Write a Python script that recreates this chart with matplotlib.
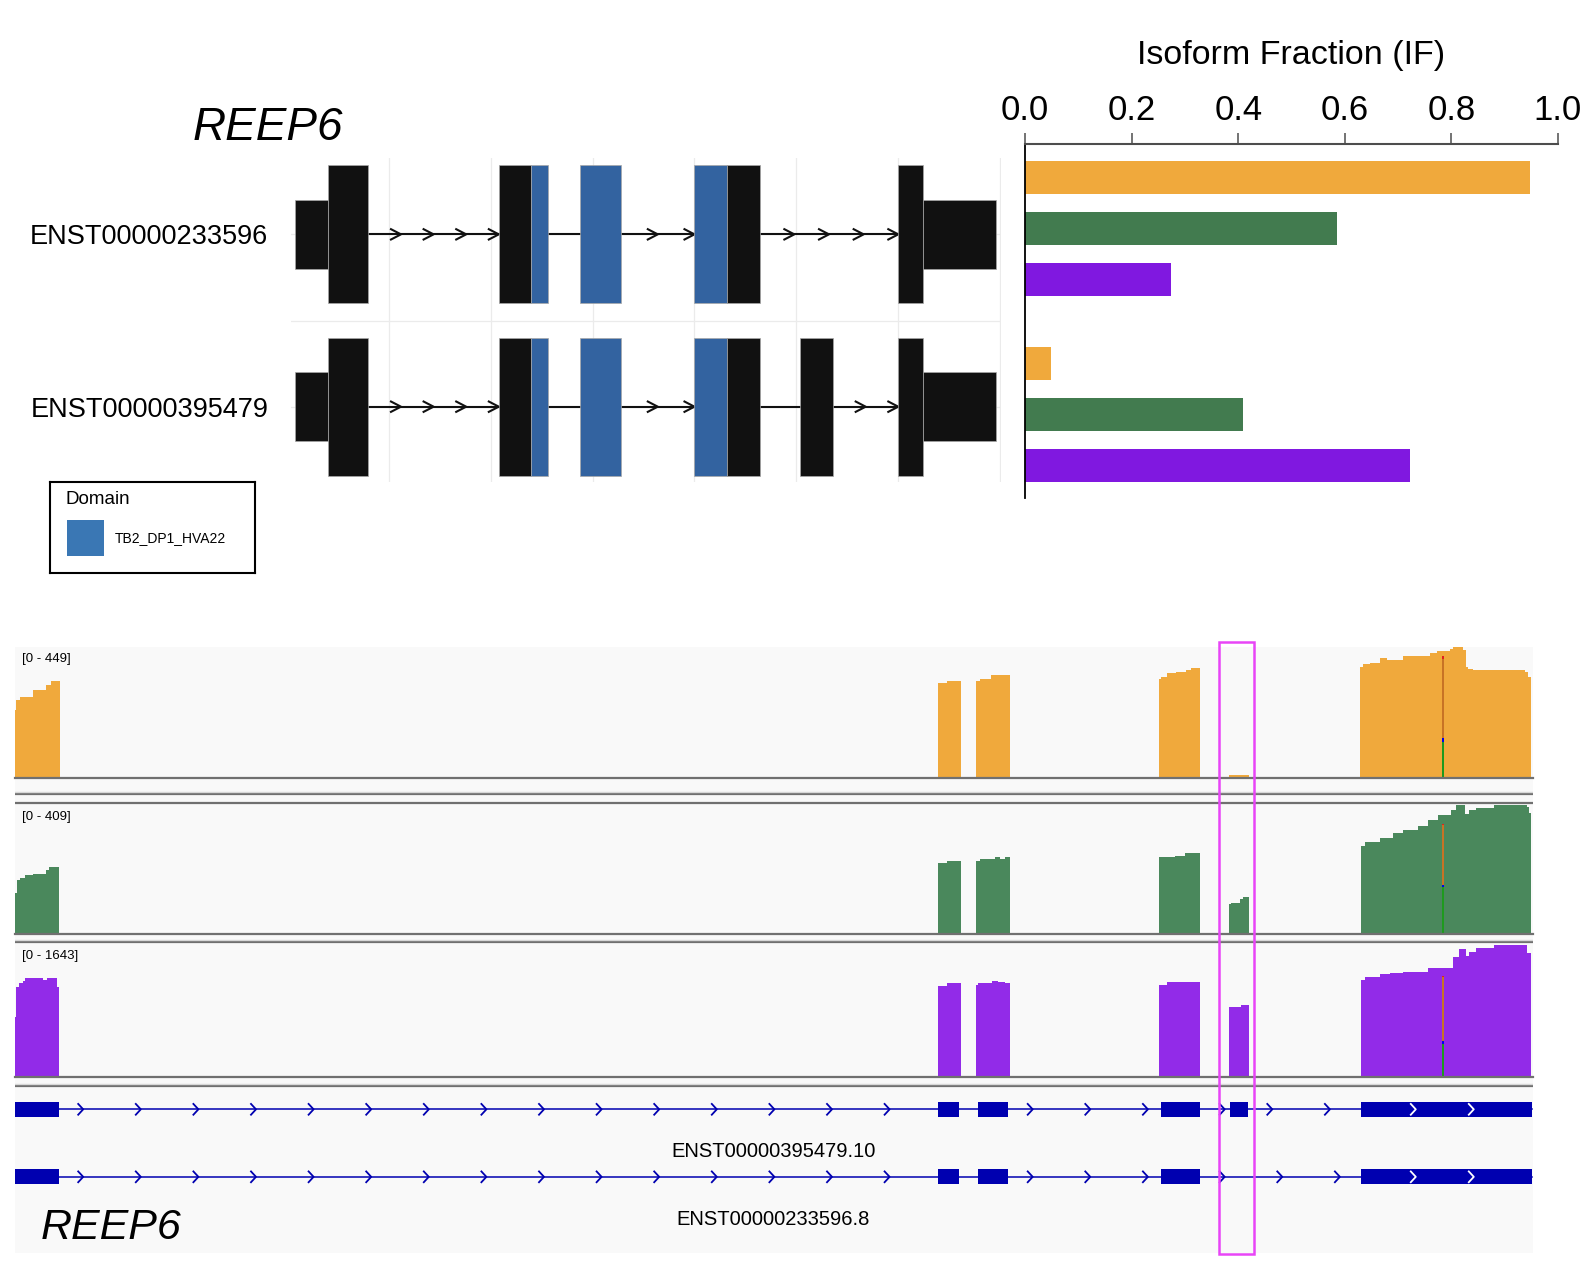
import numpy as np
import matplotlib.pyplot as plt
from matplotlib.patches import Rectangle

plt.rcParams['font.family'] = ['Liberation Sans', 'DejaVu Sans']

# ---------------- data ----------------
isoforms = ['ENST00000233596', 'ENST00000395479']
if_233596 = [0.948, 0.585, 0.273]   # isoform fraction per condition
if_395479 = [0.048, 0.409, 0.722]
bar_colors = ['#F0A93C', '#427B4F', '#8018E0']

# transcript structure (arbitrary scaled coordinates): start, end, kind
tx_233596 = [(8, 40, 'utr'), (40, 80, 'cds'), (208, 240, 'cds'), (240, 256, 'dom'),
             (288, 328, 'dom'), (400, 432, 'dom'), (432, 464, 'cds'),
             (600, 624, 'cds'), (624, 696, 'utr')]
tx_395479 = [(8, 40, 'utr'), (40, 80, 'cds'), (208, 240, 'cds'), (240, 256, 'dom'),
             (288, 328, 'dom'), (400, 432, 'dom'), (432, 464, 'cds'),
             (504, 536, 'cds'), (600, 624, 'cds'), (624, 696, 'utr')]
domain_name = 'TB2_DP1_HVA22'

# coverage tracks (screen positions in window 0..1517.7), blocks of step edges / heights
track_max = [449, 409, 1643]
cov_colors = ['#F0A93C', '#4A885C', '#922BE8']
cov_orange = [
    ([0, 1.3, 5.4, 18.2, 30.9, 36, 44.7], [233, 267, 278, 301, 318, 332]),
    ([97, 147], [4]),
    ([624, 654], [4]),
    ([922.8, 932, 945.6], [326, 332]),
    ([960.8, 964.8, 976.5, 995.2], [332, 340, 352]),
    ([1144.2, 1145.7, 1152.3, 1160.9, 1171, 1176.1, 1185.2], [338, 344, 358, 364, 369, 378]),
    ([1213.6, 1234.3], [11]),
    ([1345.3, 1348.3, 1355, 1365, 1371.7, 1388.3, 1415, 1421.7, 1435, 1438.3, 1448.3,
      1450.7, 1453.3, 1458.3, 1510, 1513.3, 1516.5],
     [381, 389, 394, 409, 403, 417, 426, 435, 440, 449, 437, 381, 372, 369, 364, 344]),
]
cov_green = [
    ([0, 1.8, 5.4, 10.5, 18.2, 30.9, 34.5, 43.7], [129, 171, 177, 187, 189, 203, 212]),
    ([922.8, 931.9, 945.6], [226, 232]),
    ([960.8, 964.8, 980, 985.1, 990.2, 995.2], [232, 238, 243, 238, 243]),
    ([1144.2, 1159.9, 1170, 1185.2], [243, 247, 256]),
    ([1213.6, 1215.6, 1224.7, 1228.3, 1234.3], [94, 99, 110, 116]),
    ([1345.8, 1349.8, 1365, 1377.7, 1387.8, 1403, 1413.2, 1423.3, 1436, 1441, 1450.1,
      1453.7, 1461.3, 1479, 1512, 1514.5, 1516.5],
     [279, 293, 304, 320, 331, 341, 362, 378, 392, 409, 381, 392, 399, 409, 404, 383]),
]
cov_purple = [
    ([0, 1.3, 4.4, 8, 10.5, 28.4, 32.4, 42.1, 43.7], [740, 1110, 1151, 1184, 1213, 1192, 1213, 1110]),
    ([922.8, 931.9, 945.6], [1122, 1151]),
    ([960.8, 963.3, 977.5, 982.6, 990.2, 995.2], [1130, 1151, 1184, 1172, 1151]),
    ([1144.2, 1152.3, 1185.2], [1130, 1172]),
    ([1213.6, 1225.7, 1234.3], [856, 884]),
    ([1345.8, 1349.8, 1365, 1375.2, 1387.8, 1413.2, 1438.5, 1443.6, 1451.2, 1453.7,
      1461.3, 1479, 1512, 1516.5],
     [1192, 1233, 1262, 1275, 1295, 1336, 1480, 1571, 1492, 1541, 1583, 1624, 1521]),
]
coverages = [cov_orange, cov_green, cov_purple]

# mismatch column: allele counts A, C, G, T per track
snp_pos = 1428.3
snp_counts = [[124, 13, 269, 10], [148, 7, 192, 3], [403, 41, 785, 12]]
allele_colors = ['#1E9A1E', '#0000F0', '#C87325', '#E02020']

# gene annotation track
gene_tx = ['ENST00000395479.10', 'ENST00000233596.8']
exons_395479 = [(0, 43.7), (922.8, 943.6), (962.8, 993.2), (1146.2, 1185.2),
                (1215.1, 1232.8), (1345.8, 1517)]
exons_233596 = [(0, 43.7), (922.8, 943.6), (962.8, 993.2), (1146.2, 1185.2),
                (1345.8, 1517)]
highlight = (1204.3, 1238.7)
window = 1517.7

# ---------------- figure ----------------
W, H = 1594, 1268
fig = plt.figure(figsize=(W / 100, H / 100), dpi=100)


def add_ax(left, top, right, bottom, **kw):
    return fig.add_axes([left / W, 1 - bottom / H, (right - left) / W, (bottom - top) / H], **kw)


# isoform fraction bars
ax_bar = add_ax(1025, 144, 1558, 498)
ax_bar.patch.set_alpha(0)
group_gap = 3.657
for g, vals in enumerate([if_233596, if_395479]):
    ypos = g * group_gap + np.arange(len(vals))
    ax_bar.barh(ypos, vals, height=0.65, color=bar_colors)
ax_bar.set_xlim(0, 1)
ax_bar.set_ylim(6.29, -0.657)
ax_bar.xaxis.tick_top()
ax_bar.xaxis.set_label_position('top')
ax_bar.set_xticks(np.arange(0, 1.01, 0.2))
ax_bar.set_xticklabels([f'{v:.1f}' for v in np.arange(0, 1.01, 0.2)])
ax_bar.tick_params(axis='x', length=8, width=1.1, color='#4D4D4D', labelsize=25, pad=4)
ax_bar.set_yticks([])
ax_bar.spines['right'].set_visible(False)
ax_bar.spines['bottom'].set_visible(False)
ax_bar.spines['top'].set_color('#4D4D4D')
ax_bar.spines['top'].set_linewidth(1.5)
ax_bar.spines['left'].set_linewidth(1.3)
ax_bar.set_xlabel('Isoform Fraction (IF)', fontsize=24.5, labelpad=22)

# transcript structures
ax_s = add_ax(290.7, 158, 1001, 482)
ax_s.set_xlim(3.8, 700.8)
ax_s.set_ylim(2.437, 0.557)
ax_s.set_xticks(range(100, 701, 100))
ax_s.set_yticks([1, 2])
ax_s.set_yticks([1.5], minor=True)
ax_s.set_yticklabels(isoforms, fontsize=19.5)
ax_s.grid(True, which='both', color='#EBEBEB', lw=0.9)
ax_s.set_axisbelow(True)
ax_s.tick_params(axis='both', which='both', length=0, labelbottom=False)
ax_s.tick_params(axis='y', pad=16)
for sp in ax_s.spines.values():
    sp.set_visible(False)

kind_style = {'utr': ('#111111', 0.4), 'cds': ('#111111', 0.8), 'dom': ('#3363A0', 0.8)}
arrow_unit, alen, ahh = 31.4, 9.8, 0.03
for row, tx in zip([1, 2], [tx_233596, tx_395479]):
    for (s, e, k) in tx:
        c, h = kind_style[k]
        ax_s.barh(row, e - s, left=s, height=h, color=c, edgecolor='#A8A8A8',
                  linewidth=0.5, zorder=3)
    for (s0, e0, _), (s1, e1, _) in zip(tx[:-1], tx[1:]):
        if s1 <= e0:
            continue
        ax_s.plot([e0, s1], [row, row], color='#111111', lw=1.5, zorder=2)
        n = int((s1 - e0) // arrow_unit)
        if n < 2:
            continue
        for tip in e0 + (s1 - e0) * np.arange(1, n + 1) / n:
            ax_s.plot([tip - alen, tip, tip - alen], [row - ahh, row, row + ahh],
                      color='#111111', lw=1.5, zorder=2)

fig.text(193 / W, 1 - 128 / H, 'REEP6', fontsize=33, style='italic', va='center', ha='left')

# domain legend
ax_leg = add_ax(50, 482, 255, 573)
ax_leg.set_xlim(0, 205)
ax_leg.set_ylim(91, 0)
ax_leg.set_xticks([])
ax_leg.set_yticks([])
for sp in ax_leg.spines.values():
    sp.set_linewidth(1.5)
ax_leg.text(15, 17, 'Domain', fontsize=13.5, va='center')
ax_leg.add_patch(Rectangle((17, 38), 37, 36, color='#3A77B4', lw=0))
ax_leg.text(65, 56, domain_name, fontsize=10, va='center')

# ---------------- genome browser ----------------
ax_bg = add_ax(15, 640, 1532.7, 1256)
ax_bg.set_xlim(0, window)
ax_bg.set_ylim(1256, 640)
ax_bg.axis('off')
ax_bg.add_patch(Rectangle((0, 646.7), window, 606, color='#F9F9F9', lw=0))
for y in [794.3, 802.7, 942, 1086]:
    ax_bg.axhline(y, color='#707070', lw=1.6)
for y in [792, 940, 1084]:
    ax_bg.axhline(y, color='#D8D8D8', lw=1.0)

track_box = [(646.7, 778.3), (805, 934), (943.3, 1076.7)]
for (top, base), blocks, col, ymax, counts in zip(track_box, coverages, cov_colors,
                                                   track_max, snp_counts):
    ax = add_ax(15, top, 1532.7, base)
    ax.patch.set_alpha(0)
    ax.set_xlim(0, window)
    ax.set_ylim(0, ymax)
    ax.axis('off')
    for edges, heights in blocks:
        ax.stairs(heights, edges, fill=True, color=col, baseline=0)
    bottom = 0
    for cnt, ac in zip(counts, allele_colors):
        ax.bar(snp_pos, cnt, width=1.6, bottom=bottom, color=ac, lw=0)
        bottom += cnt
    ax.axhline(0, color='#707070', lw=1.6, clip_on=False)
    ax.text(7.4, 0.905, f'[0 - {ymax}]', transform=ax.get_xaxis_transform(),
            fontsize=9.5, va='center')

ax_g = add_ax(15, 1088, 1532.7, 1252.7)
ax_g.patch.set_alpha(0)
ax_g.set_xlim(0, window)
ax_g.set_ylim(2.124, -0.316)
ax_g.axis('off')
blue = '#0000B0'
for row, (name, exons) in enumerate(zip(gene_tx, [exons_395479, exons_233596])):
    x0, x1 = exons[0][0], exons[-1][1]
    ax_g.plot([x0, x1], [row, row], color=blue, lw=1.1, zorder=1)
    ax_g.barh(row, [e - s for s, e in exons], left=[s for s, e in exons],
              height=0.222, color=blue, zorder=2)
    for (s0, e0), (s1, e1) in zip(exons[:-1], exons[1:]):
        for cx in np.arange(e0 + 24.5, s1 - 3, 57.6):
            ax_g.plot([cx - 5, cx, cx - 5], [row - 0.08, row, row + 0.08],
                      color=blue, lw=1.3, zorder=1)
    for s, e in exons:
        if e - s > 100:
            for cx in np.arange(s + 55, e - 20, 58):
                ax_g.plot([cx - 5, cx, cx - 5], [row - 0.08, row, row + 0.08],
                          color='white', lw=1.3, zorder=3)
    ax_g.text((x0 + x1) / 2, row + 0.628, name, fontsize=14.5, ha='center', va='center')
ax_g.text(25.8, 1.76, 'REEP6', fontsize=31, style='italic', va='center', ha='left')

ax_top = add_ax(15, 640, 1532.7, 1256, zorder=10)
ax_top.patch.set_alpha(0)
ax_top.set_xlim(0, window)
ax_top.set_ylim(1256, 640)
ax_top.axis('off')
ax_top.add_patch(Rectangle((highlight[0], 642.3), highlight[1] - highlight[0], 612,
                           fill=False, ec='#E845F7', lw=1.8, clip_on=False))

fig.savefig('out.png', dpi=100, facecolor='white')
